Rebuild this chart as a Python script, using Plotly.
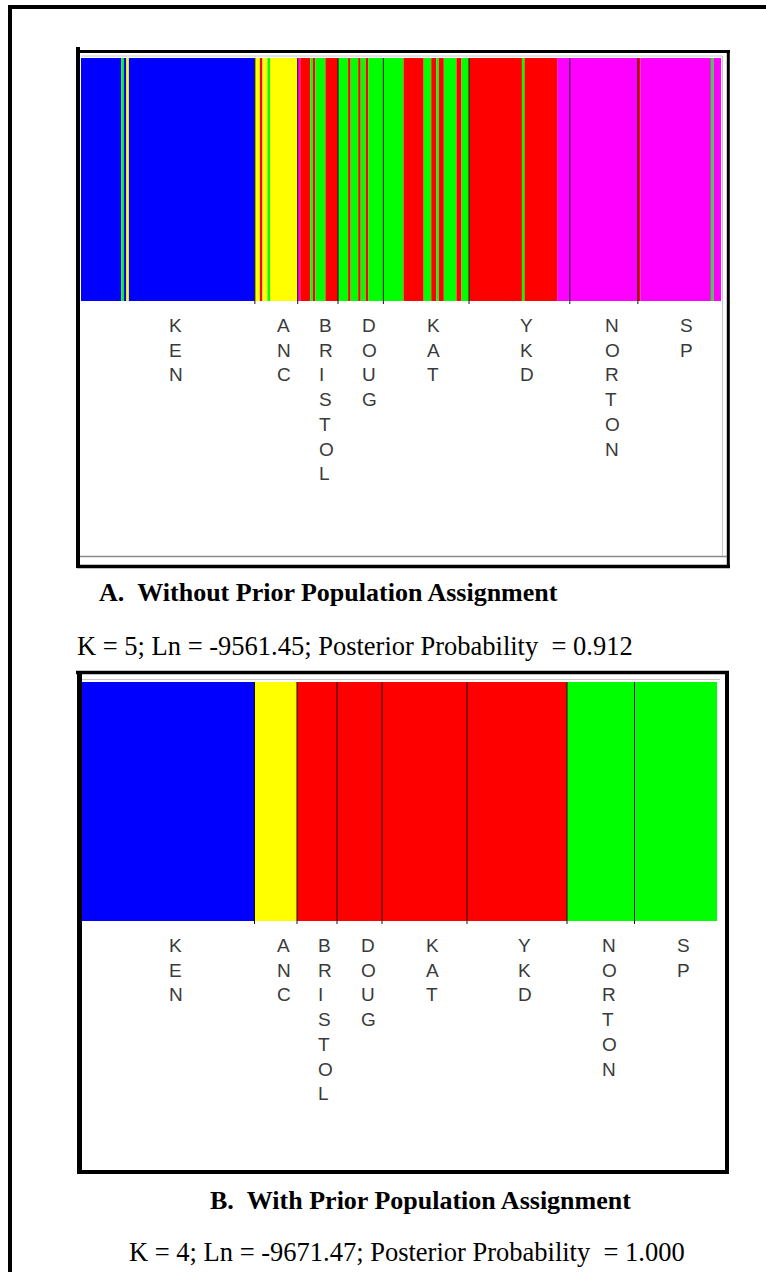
import plotly.graph_objects as go
from itertools import accumulate

W, H = 766, 1272

# ---------------- data ----------------
pop_names = ["KEN", "ANC", "BRISTOL", "DOUG", "KAT", "YKD", "NORTON", "SP"]
pop_sizes = [69, 17, 16, 18, 34, 40, 27, 33]

cluster_colors = {"B": "#0000ff", "Y": "#ffff00", "R": "#ff0000",
                  "G": "#00ff00", "M": "#ff00ff"}

# Panel A (K = 5): runs of consecutive individuals assigned to one cluster
runs_a_cluster = ["B", "G", "B", "Y", "B",
                  "Y", "R", "Y", "G", "Y",
                  "M", "R", "G", "R", "G", "R",
                  "G", "R", "G", "R", "G", "R", "G",
                  "G", "R", "G", "R", "G", "R", "G", "R", "G",
                  "R", "G", "R", "M",
                  "M",
                  "R", "M", "G", "M"]
runs_a_count = [16, 1, 1, 1, 50,
                2, 1, 2, 1, 11,
                1, 4, 1, 1, 4, 5,
                4, 1, 3, 1, 2, 1, 6,
                8, 8, 3, 2, 1, 2, 5, 2, 3,
                21, 1, 13, 5,
                27,
                1, 28, 1, 3]

# Panel B (K = 4): every population assigned to one cluster
runs_b_cluster = ["B", "Y", "R", "R", "R", "R", "G", "G"]
runs_b_count = pop_sizes

k_values = [5, 4]
ln_values = [-9561.45, -9671.47]
post_prob = [0.912, 1.000]
captions = ["A.  Without Prior Population Assignment",
            "B.  With Prior Population Assignment"]

N = sum(pop_sizes)

# ---------------- helpers ----------------
def px(x):
    return x / W

def py(y):
    return 1 - y / H

def bar_trace(clusters, counts, xa, ya):
    starts = [0] + list(accumulate(counts))[:-1]
    centers = [s + c / 2 for s, c in zip(starts, counts)]
    return go.Bar(x=centers, y=[1] * len(counts), width=counts, base=0,
                  marker=dict(color=[cluster_colors[c] for c in clusters],
                              line=dict(width=0)),
                  xaxis=xa, yaxis=ya, hoverinfo="skip", showlegend=False)

fig = go.Figure()
fig.add_trace(bar_trace(runs_a_cluster, runs_a_count, "x", "y"))
fig.add_trace(bar_trace(runs_b_cluster, runs_b_count, "x2", "y2"))

shapes = []
annotations = []

def seg(x0, y0, x1, y1, w, color="black"):
    shapes.append(dict(type="line", xref="paper", yref="paper",
                       x0=px(x0), x1=px(x1), y0=py(y0), y1=py(y1),
                       line=dict(color=color, width=w)))

bounds = list(accumulate(pop_sizes))[:-1]
pop_start = [0] + list(accumulate(pop_sizes))[:-1]
pop_mid = [s + n / 2 for s, n in zip(pop_start, pop_sizes)]

panels = [
    dict(xref="x", bar_top=58, bar_bot=301),
    dict(xref="x2", bar_top=682, bar_bot=921),
]

for p in panels:
    # population dividers
    for b in bounds:
        shapes.append(dict(type="line", xref=p["xref"], yref="paper",
                           x0=b, x1=b, y0=py(p["bar_bot"] + 3), y1=py(p["bar_top"]),
                           line=dict(color="#111111", width=1)))
    # vertical population labels
    for name, mid in zip(pop_names, pop_mid):
        annotations.append(dict(text="<br>".join(list(name)), xref=p["xref"], x=mid,
                                yref="paper", y=py(p["bar_bot"] + 13),
                                xanchor="left", yanchor="top", align="left",
                                showarrow=False, borderpad=0,
                                font=dict(family="Liberation Sans, Arial", size=19,
                                          color="#3a3a3a")))

# ---------- frames ----------
# outer frame (left and top)
seg(10, 5, 10, H, 4)
seg(8, 7, W, 7, 4)

# panel A box
seg(78, 47, 78, 568, 4)
seg(76, 51.5, 730, 51.5, 3)
seg(728.3, 50, 728.3, 568, 3)
seg(80, 556.5, 727, 556.5, 1.5, "#8a8a8a")
seg(77, 566.5, 730, 566.5, 3.5)
seg(81, 56, 722, 56, 1, "#c8c8c8")
seg(722.5, 56, 722.5, 556, 1, "#c8c8c8")

# panel B box
seg(76, 672.5, 729, 672.5, 3.5)
seg(79.5, 671, 79.5, 1174, 5)
seg(727, 671, 727, 1174, 4)
seg(77, 1172, 729, 1172, 4)
seg(82, 679.5, 720, 679.5, 1, "#c8c8c8")

# ---------- captions ----------
serif = "Liberation Serif, Times New Roman, serif"

def stat_text(k, ln, pp):
    return f"K = {k}; Ln = {ln:.2f}; Posterior Probability \u00a0= {pp:.3f}"

cap_pos = [(98, 602), (209, 1210)]
stat_pos = [(76, 656), (128, 1262)]

for i in range(2):
    cx, cy = cap_pos[i]
    annotations.append(dict(text="<b>" + captions[i].replace("  ", " \u00a0") + "</b>",
                            xref="paper", yref="paper", x=px(cx), y=py(cy + 6),
                            xanchor="left", yanchor="bottom", showarrow=False,
                            borderpad=0,
                            font=dict(family=serif, size=26, color="black")))
    sx, sy = stat_pos[i]
    annotations.append(dict(text=stat_text(k_values[i], ln_values[i], post_prob[i]),
                            xref="paper", yref="paper", x=px(sx), y=py(sy + 6),
                            xanchor="left", yanchor="bottom", showarrow=False,
                            borderpad=0,
                            font=dict(family=serif, size=26.5, color="black")))

axis_common = dict(visible=False, showgrid=False, zeroline=False, fixedrange=True)
fig.update_layout(
    width=W, height=H, autosize=False,
    margin=dict(l=0, r=0, t=0, b=0, pad=0),
    paper_bgcolor="white", plot_bgcolor="white",
    barmode="overlay", showlegend=False,
    xaxis=dict(domain=[px(81), px(721)], range=[0, N], **axis_common),
    yaxis=dict(domain=[py(301), py(58)], range=[0, 1], **axis_common),
    xaxis2=dict(domain=[px(82), px(717)], range=[0, N], anchor="y2", **axis_common),
    yaxis2=dict(domain=[py(921), py(682)], range=[0, 1], anchor="x2", **axis_common),
    shapes=shapes, annotations=annotations,
)

fig.write_html("out.html", config={"displayModeBar": False},
               post_script="document.body.style.margin='0';document.body.style.overflow='hidden';")
